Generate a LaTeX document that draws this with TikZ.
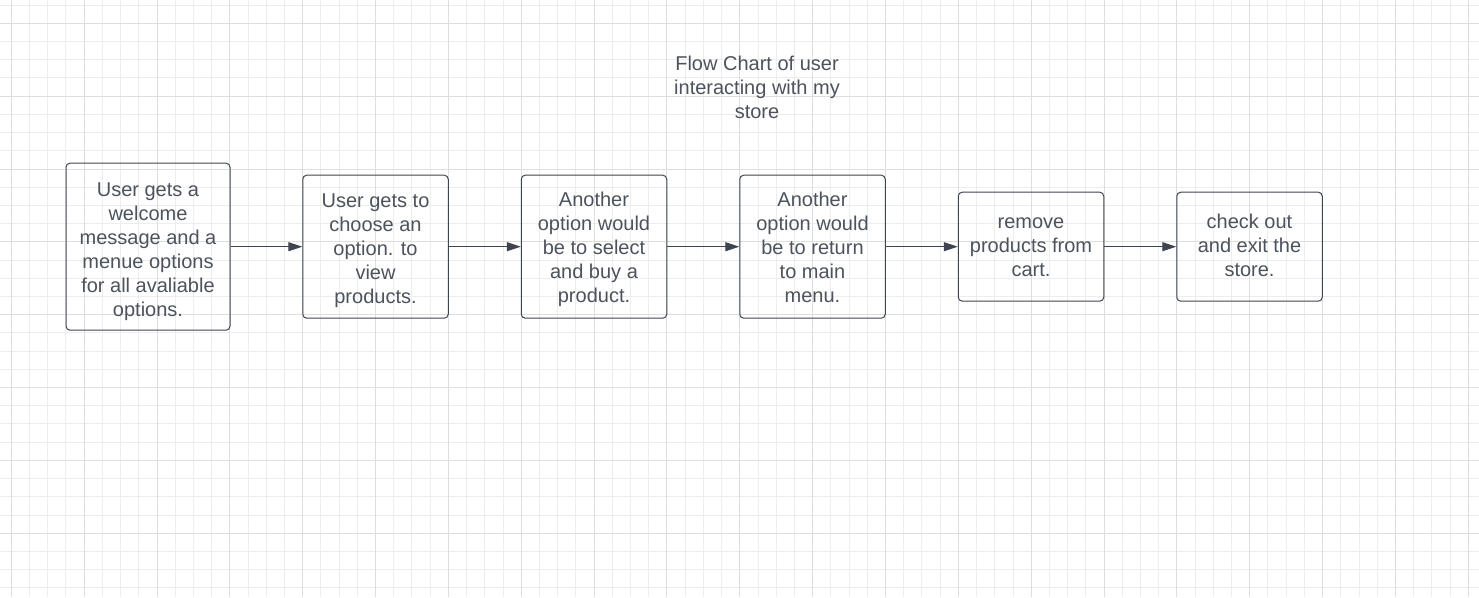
\documentclass[tikz,border=0pt]{standalone}
\usepackage{fontspec}
\setmainfont{Liberation Sans}
\usetikzlibrary{arrows.meta}
\definecolor{gridminor}{HTML}{EDEDED}
\definecolor{gridmajor}{HTML}{DEDEDE}
\definecolor{boxline}{HTML}{3F4550}
\definecolor{txt}{HTML}{4D535C}
\tikzset{
  flowbox/.style={draw=boxline, line width=1pt, rounded corners=4pt, inner sep=0pt},
  boxtext/.style={align=center, text=txt, font=\fontsize{20}{24}\selectfont, inner sep=0pt},
  flowarrow/.style={draw=boxline, line width=1pt, -{Triangle[length=14pt,width=9pt]}},
  titletext/.style={align=center, text=txt, font=\fontsize{20}{24}\selectfont}
}
\begin{document}
\begin{tikzpicture}[x=1pt,y=-1pt]
\useasboundingbox (0,0) rectangle (1479,597);
\fill[white] (0,0) rectangle (1479,597);
% grid
\foreach \k in {0,...,80}{
  \draw[gridminor, line width=1pt] ({11.3+18.2125*\k},0) -- ({11.3+18.2125*\k},597);
}
\foreach \k in {-1,...,31}{
  \draw[gridminor, line width=1pt] (0,{23.3+18.2125*\k}) -- (1479,{23.3+18.2125*\k});
}
\foreach \k in {0,...,20}{
  \draw[gridmajor, line width=1pt] ({11.3+72.85*\k},0) -- ({11.3+72.85*\k},597);
}
\foreach \k in {0,...,7}{
  \draw[gridmajor, line width=1pt] (0,{23.3+72.85*\k}) -- (1479,{23.3+72.85*\k});
}
% title
\node[titletext] (title) at (757,87) {Flow Chart of user\\interacting with my\\store};
% boxes
\node[flowbox, minimum width=164pt, minimum height=167pt] (b1) at (148,246.7) {};
\node[flowbox, minimum width=145.5pt, minimum height=143pt] (b2) at (375.5,246.7) {};
\node[flowbox, minimum width=145.5pt, minimum height=143pt] (b3) at (594,246.7) {};
\node[flowbox, minimum width=145.5pt, minimum height=143pt] (b4) at (812.5,246.7) {};
\node[flowbox, minimum width=145.5pt, minimum height=109pt] (b5) at (1031,246.7) {};
\node[flowbox, minimum width=145.5pt, minimum height=109pt] (b6) at (1249.5,246.7) {};
% box texts
\node[boxtext] (t1) at ([yshift=-4.5pt]b1.center)
  {User gets a\\welcome\\message and a\\menue options\\for all avaliable\\options.};
\node[boxtext] (t2) at ([yshift=-3.5pt]b2.center)
  {User gets to\\choose an\\option. to\\view\\products.};
\node[boxtext] (t3) at ([yshift=-3pt]b3.center)
  {Another\\option would\\be to select\\and buy a\\product.};
\node[boxtext] (t4) at ([yshift=-0.5pt]b4.center)
  {Another\\option would\\be to return\\to main\\menu.};
\node[boxtext] (t5) at ([yshift=-1pt]b5.center)
  {remove\\products from\\cart.};
\node[boxtext] (t6) at ([yshift=1pt]b6.center)
  {check out\\and exit the\\store.};
% arrows
\draw[flowarrow] (b1.east) -- (b2.west);
\draw[flowarrow] (b2.east) -- (b3.west);
\draw[flowarrow] (b3.east) -- (b4.west);
\draw[flowarrow] (b4.east) -- (b5.west);
\draw[flowarrow] (b5.east) -- (b6.west);
\end{tikzpicture}
\end{document}
